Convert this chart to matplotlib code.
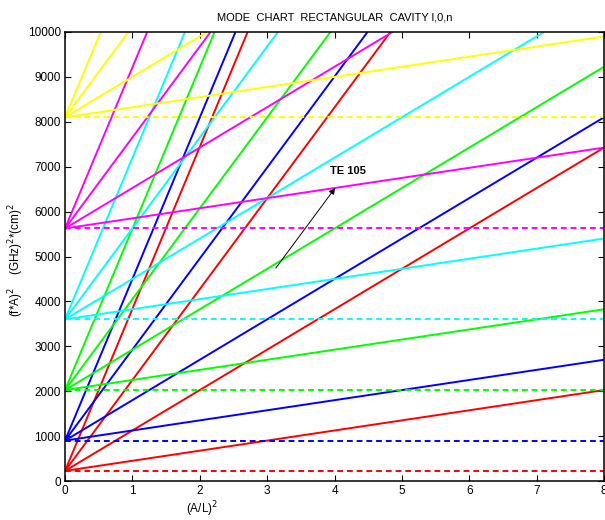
import matplotlib
matplotlib.use('Agg')
import matplotlib.pyplot as plt

plt.rcParams['font.family'] = ['Liberation Sans', 'DejaVu Sans']

# cutoff level of each l,0 family read at (A/L)^2 = 0
colors = ['#ff0000', '#0000ff', '#00ff00', '#00ffff', '#ff00ff', '#ffff00']
cutoff = [225, 900, 2025, 3600, 5625, 8100]

# end points of the n = 1..4 lines of each family
red_x = [8, 8, 4.83, 2.71]
red_y = [2025, 7425, 10000, 10000]
blue_x = [8, 8, 4.49, 2.53]
blue_y = [2700, 8100, 10000, 10000]
green_x = [8, 8, 3.94, 2.22]
green_y = [3825, 9225, 10000, 10000]
cyan_x = [8, 7.11, 3.16, 1.78]
cyan_y = [5400, 10000, 10000, 10000]
magenta_x = [8, 4.86, 2.16, 1.22]
magenta_y = [7425, 10000, 10000, 10000]
yellow_x = [8, 2.11, 0.94, 0.53]
yellow_y = [9900, 10000, 10000, 10000]

end_x = [red_x, blue_x, green_x, cyan_x, magenta_x, yellow_x]
end_y = [red_y, blue_y, green_y, cyan_y, magenta_y, yellow_y]

fig = plt.figure(figsize=(6.05, 5.2), dpi=100)
ax = fig.add_axes([65/605, 39/520, 539/605, 449/520])

for c, y0, xs, ys in zip(colors, cutoff, end_x, end_y):
    for x1, y1 in zip(xs, ys):
        ax.plot([0, x1], [y0, y1], color=c, lw=1.4, solid_capstyle='butt')
    ax.plot([0, 8], [y0, y0], color=c, lw=1.4, linestyle=(0, (3, 2)))

# arrow pointing at the TE 105 line
ax.annotate('', xy=(4.01, 6526), xytext=(3.13, 4744),
            arrowprops=dict(arrowstyle='-|>', color='black', lw=0.7,
                            mutation_scale=9, shrinkA=0, shrinkB=0))
ax.text(4.2, 6904, 'TE 105', fontsize=8, fontweight='bold', ha='center', va='center')

ax.set_xlim(0, 8)
ax.set_ylim(0, 10000)
ax.set_xticks(range(0, 9))
ax.set_yticks(range(0, 10001, 1000))
ax.tick_params(direction='in', top=True, right=True, length=4, width=0.8, labelsize=8.5, pad=3)
for s in ax.spines.values():
    s.set_linewidth(1.1)

ax.set_title('MODE  CHART  RECTANGULAR  CAVITY l,0,n', fontsize=8, pad=8)
fig.text(202/605, 11/520, '(A/L)$^2$', fontsize=8.5, ha='center', va='center')
fig.text(16/605, 0.5, '(f*A)$^2$    (GHz)$^2$*(cm)$^2$', fontsize=8.5,
         rotation=90, ha='center', va='center')

fig.savefig('out.png', dpi=100)
